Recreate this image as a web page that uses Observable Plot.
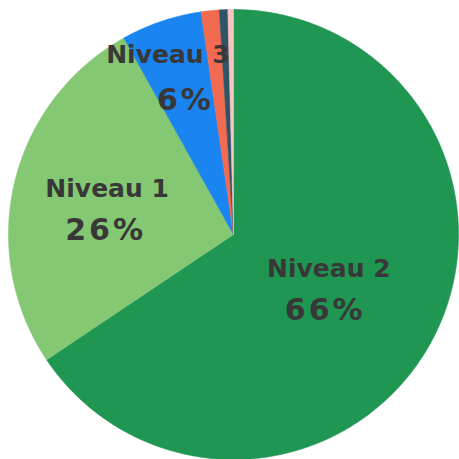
<!DOCTYPE html>
<html>
<head>
<meta charset="utf-8">
<script src="https://cdn.jsdelivr.net/npm/d3@7"></script>
<script src="https://cdn.jsdelivr.net/npm/@observablehq/plot@0.6"></script>
<style>
  html, body { margin: 0; padding: 0; background: #ffffff; }
  #chart svg { display: block; }
</style>
</head>
<body>
<div id="chart"></div>
<script>
// ---- Data ----
const categories = ["Niveau 2", "Niveau 1", "Niveau 3", "Niveau 4", "Niveau 5", "Niveau 6"];
const shares     = [65.6, 26.3, 5.8, 1.3, 0.6, 0.4];   // percent, clockwise from 12 o'clock
const labelled   = ["Niveau 2", "Niveau 1", "Niveau 3"];

// ---- Styles ----
const palette = ["#1f9652", "#85c873", "#1a84f0", "#f26a50", "#2e5468", "#f3c4bd"];
const R = 225; // pixel radius, used for label nudges only
const labelLayout = {
  "Niveau 2": {f: 0.49, ndx: -2,  ndy: -17.6, pdx: -5.5, pdy: 23.8},
  "Niveau 1": {f: 0.58, ndx: 0.5, ndy: -15,   pdx: -1,   pdy: 26.4},
  "Niveau 3": {f: 0.70, ndx: -15, ndy: -30,   pdx: 2.5,  pdy: 15.4}
};

// ---- Build wedge polygons from the shares ----
const total = d3.sum(shares);
const wedges = [];
const mids = {};
let acc = 0;
categories.forEach((c, i) => {
  const a0 = acc / total * 2 * Math.PI;
  acc += shares[i];
  const a1 = acc / total * 2 * Math.PI;
  mids[c] = (a0 + a1) / 2;
  const steps = Math.max(2, Math.ceil((a1 - a0) / (Math.PI / 360)));
  wedges.push({category: c, x: 0, y: 0});
  for (let k = 0; k <= steps; k++) {
    const a = a0 + (a1 - a0) * k / steps;
    wedges.push({category: c, x: Math.sin(a), y: Math.cos(a)});
  }
  wedges.push({category: c, x: 0, y: 0});
});

const names = [], pcts = [];
labelled.forEach(c => {
  const i = categories.indexOf(c);
  const L = labelLayout[c];
  const a = mids[c];
  const ax = L.f * Math.sin(a), ay = L.f * Math.cos(a);
  names.push({x: ax + L.ndx / R, y: ay - L.ndy / R, text: c});
  pcts.push({x: ax + L.pdx / R, y: ay - L.pdy / R, text: Math.round(shares[i] / total * 100) + "%"});
});

const chart = Plot.plot({
  width: 459,
  height: 459,
  margin: 0,
  x: {domain: [-1, 1], range: [8, 458], axis: null},
  y: {domain: [-1, 1], range: [459, 9], axis: null},
  color: {domain: categories, range: palette},
  style: {background: "#ffffff", overflow: "visible"},
  marks: [
    Plot.line(wedges, {x: "x", y: "y", z: "category", fill: "category", stroke: "category", strokeWidth: 0.6, curve: "linear"}),
    Plot.text(names, {x: "x", y: "y", text: "text", fontSize: 25, fontWeight: "bold",
      fontFamily: "DejaVu Sans", fill: "#383838", style: "letter-spacing:0.4px"}),
    Plot.text(pcts, {x: "x", y: "y", text: "text", fontSize: 30, fontWeight: "bold",
      fontFamily: "DejaVu Sans", fill: "#383838"})
  ]
});
chart.querySelectorAll("text").forEach(t => {
  if (/%/.test(t.textContent)) t.style.letterSpacing = "3px";
});
document.getElementById("chart").append(chart);
</script>
</body>
</html>
